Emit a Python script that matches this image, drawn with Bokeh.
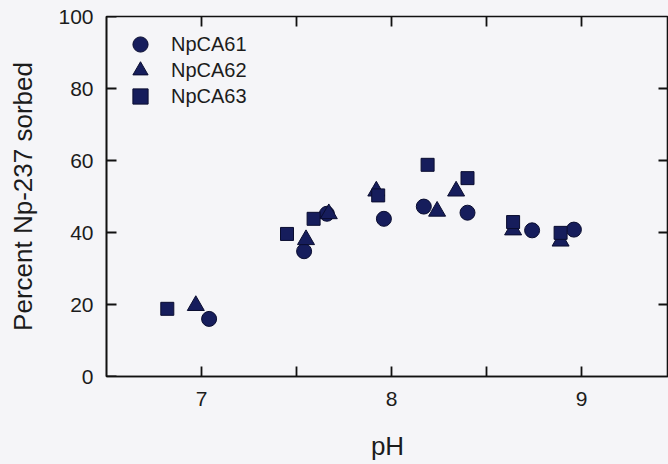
from bokeh.plotting import figure
from bokeh.models import LinearAxis, FixedTicker, Range1d, Legend, LegendItem, ColumnDataSource
from bokeh.embed import file_html
from bokeh.resources import INLINE

# Data
ph_61 = [7.04, 7.54, 7.66, 7.96, 8.17, 8.40, 8.74, 8.96]
pct_61 = [16.0, 34.8, 45.2, 43.8, 47.2, 45.5, 40.6, 40.8]
ph_62 = [6.97, 7.55, 7.67, 7.92, 8.24, 8.34, 8.64, 8.89]
pct_62 = [19.7, 38.0, 45.2, 51.5, 45.9, 51.5, 40.7, 37.6]
ph_63 = [6.82, 7.45, 7.59, 7.93, 8.19, 8.40, 8.64, 8.89]
pct_63 = [18.8, 39.6, 43.8, 50.3, 58.8, 55.1, 42.9, 39.9]

series_names = ["NpCA61", "NpCA62", "NpCA63"]
x_ticks = [7, 8, 9]
x_tick_marks = [7, 7.5, 8, 8.5, 9]
y_ticks = [0, 20, 40, 60, 80, 100]
y_tick_marks_right = [20, 40, 60, 80]

FONT = "Liberation Sans"
NAVY = "#161d5c"
EDGE = "#0a0d30"
BG = "#f5f5f8"
TXT = "#1c1c1c"
LINE = "#111111"

FRAME_W, FRAME_H = 562, 360
X0, X1 = 6.5, 6.5 + FRAME_W / 190.0
Y0, Y1 = 0, 100
TICK_PX = 10
dx = TICK_PX * (X1 - X0) / FRAME_W
dy = TICK_PX * (Y1 - Y0) / FRAME_H

p = figure(width=668, height=464, output_backend="svg", toolbar_location=None,
           x_range=Range1d(X0, X1), y_range=Range1d(Y0, Y1),
           x_axis_location=None, y_axis_location=None,
           min_border_left=106, min_border_right=0, min_border_top=16, min_border_bottom=88)
p.background_fill_color = BG
p.border_fill_color = BG
p.outline_line_color = LINE
p.outline_line_width = 1.6
p.xgrid.visible = False
p.ygrid.visible = False


def style_axis(ax):
    ax.axis_line_color = LINE
    ax.axis_line_width = 1.6
    ax.major_tick_in = 0
    ax.major_tick_out = 0
    ax.minor_tick_in = 0
    ax.minor_tick_out = 0
    ax.major_label_text_font = FONT
    ax.major_label_text_color = TXT
    ax.major_label_text_font_size = "21px"
    ax.axis_label_text_font = FONT
    ax.axis_label_text_color = TXT
    ax.axis_label_text_font_style = "normal"
    ax.axis_label_text_font_size = "26px"


xb = LinearAxis(ticker=FixedTicker(ticks=x_ticks, minor_ticks=[]), axis_label="pH")
style_axis(xb)
xb.major_label_standoff = 15
xb.axis_label_standoff = 22
p.add_layout(xb, "below")

yl = LinearAxis(ticker=FixedTicker(ticks=y_ticks, minor_ticks=[]), axis_label="Percent Np-237 sorbed")
style_axis(yl)
yl.major_label_standoff = 13
yl.axis_label_standoff = 17
p.add_layout(yl, "left")

# inward tick marks on all four sides of the frame
xs, ys = [], []
for t in x_tick_marks:
    xs.append([t, t]); ys.append([Y0, Y0 + dy])
    xs.append([t, t]); ys.append([Y1, Y1 - dy])
for t in y_ticks:
    xs.append([X0, X0 + dx]); ys.append([t, t])
for t in y_tick_marks_right:
    xs.append([X1, X1 - dx]); ys.append([t, t])
p.multi_line(xs=xs, ys=ys, line_color=LINE, line_width=1.8)

src61 = ColumnDataSource(dict(x=ph_61, y=pct_61))
src62 = ColumnDataSource(dict(x=ph_62, y=pct_62))
src63 = ColumnDataSource(dict(x=ph_63, y=pct_63))

r61 = p.scatter("x", "y", source=src61, marker="circle", size=15,
                fill_color=NAVY, line_color=EDGE, line_width=1)
r62 = p.scatter("x", "y", source=src62, marker="triangle", size=17,
                fill_color=NAVY, line_color=EDGE, line_width=1)
r63 = p.scatter("x", "y", source=src63, marker="square", size=13,
                fill_color=NAVY, line_color=EDGE, line_width=1)

# one single-row legend per series so the legend markers can be large while rows stay close
for i, (name, rend) in enumerate(zip(series_names, [r61, r62, r63])):
    lg = Legend(items=[LegendItem(label=name, renderers=[rend])],
                location=(15, 313 - 26 * i), padding=0, margin=0, spacing=0,
                glyph_width=38, glyph_height=38, label_height=38, label_standoff=12,
                background_fill_alpha=0, border_line_color=None,
                label_text_font=FONT, label_text_font_size="20px", label_text_color=TXT)
    p.add_layout(lg, "center")

html = file_html(p, INLINE)
html = html.replace("<body>", '<body style="background:%s">' % BG)
open("out.html", "w").write(html)
